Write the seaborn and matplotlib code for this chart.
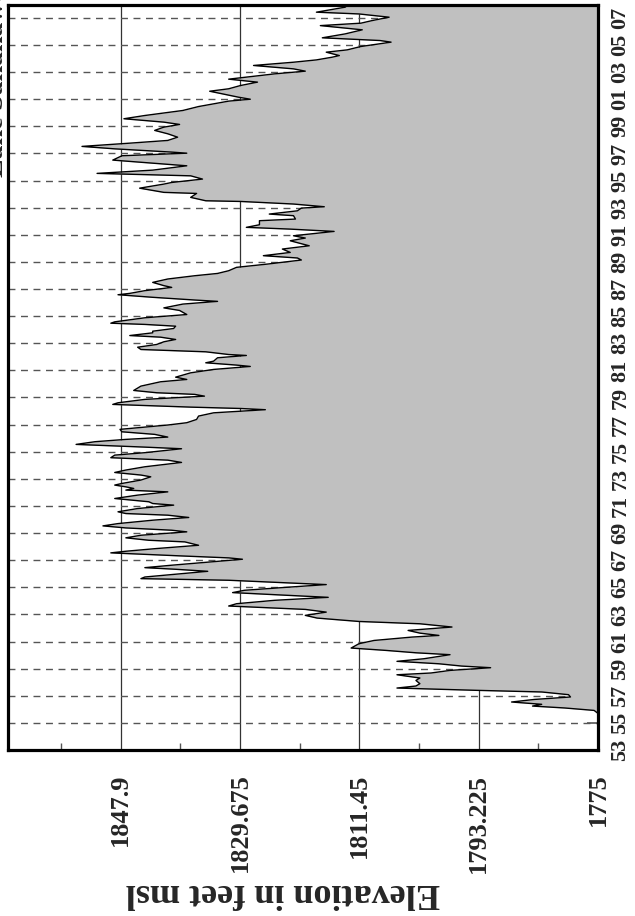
import matplotlib
matplotlib.use("Agg")
import matplotlib.pyplot as plt
import pandas as pd
import seaborn as sns

# Monthly-ish pool elevation readings (decimal year, feet msl)
year = [
    1955.70, 1955.92, 1956.10, 1956.24, 1956.37, 1956.54, 1956.73, 1956.91,
    1957.08, 1957.28, 1957.40, 1957.57, 1957.72, 1957.89, 1958.13, 1958.31,
    1958.55, 1958.68, 1958.87, 1959.07, 1959.19, 1959.36, 1959.54, 1959.73,
    1960.03, 1960.17, 1960.35, 1960.52, 1960.84, 1961.08, 1961.33, 1961.45,
    1961.62, 1961.82, 1962.07, 1962.31, 1962.48, 1962.73, 1962.93, 1963.17,
    1963.37, 1963.62, 1963.79, 1964.04, 1964.26, 1964.41, 1964.61, 1964.78,
    1965.02, 1965.20, 1965.39, 1965.52, 1965.64, 1965.76, 1966.01, 1966.18,
    1966.33, 1966.45, 1966.63, 1966.87, 1967.07, 1967.17, 1967.32, 1967.54,
    1967.66, 1967.86, 1968.10, 1968.35, 1968.47, 1968.65, 1968.84, 1969.09,
    1969.21, 1969.38, 1969.53, 1969.70, 1969.95, 1970.15, 1970.32, 1970.44,
    1970.57, 1970.81, 1971.06, 1971.18, 1971.31, 1971.55, 1971.80, 1972.04,
    1972.17, 1972.29, 1972.41, 1972.54, 1972.66, 1972.91, 1973.15, 1973.28,
    1973.47, 1973.65, 1973.89, 1974.21, 1974.38, 1974.56, 1974.75, 1974.93,
    1975.22, 1975.34, 1975.54, 1975.74, 1975.91, 1976.08, 1976.28, 1976.47,
    1976.65, 1976.97, 1977.14, 1977.38, 1977.63, 1977.87, 1978.10, 1978.19,
    1978.29, 1978.49, 1978.61, 1978.86, 1979.10, 1979.23, 1979.35, 1979.52,
    1979.84, 1980.16, 1980.33, 1980.50, 1980.82, 1981.07, 1981.29, 1981.39,
    1981.56, 1981.68, 1981.93, 1982.10, 1982.17, 1982.37, 1982.54, 1982.71,
    1982.91, 1983.11, 1983.28, 1983.45, 1983.57, 1983.77, 1983.89, 1984.09,
    1984.26, 1984.39, 1984.48, 1984.58, 1984.88, 1985.12, 1985.42, 1985.61,
    1985.89, 1986.09, 1986.19, 1986.39, 1986.58, 1986.68, 1986.88, 1987.12,
    1987.25, 1987.49, 1987.74, 1987.98, 1988.15, 1988.35, 1988.60, 1988.84,
    1989.14, 1989.29, 1989.46, 1989.70, 1989.95, 1990.19, 1990.56, 1990.76,
    1990.93, 1991.25, 1991.42, 1991.55, 1991.74, 1992.04, 1992.16, 1992.41,
    1992.53, 1992.77, 1992.97, 1993.07, 1993.27, 1993.46, 1993.51, 1993.76,
    1994.05, 1994.13, 1994.44, 1994.74, 1994.86, 1995.11, 1995.35, 1995.53,
    1995.77, 1996.09, 1996.51, 1996.83, 1997.02, 1997.10, 1997.34, 1997.52,
    1997.76, 1997.96, 1998.20, 1998.45, 1998.70, 1998.94, 1999.14, 1999.31,
    1999.56, 1999.80, 2000.17, 2000.46, 2000.86, 2001.00, 2001.15, 2001.59,
    2001.77, 2002.01, 2002.26, 2002.48, 2002.87, 2003.07, 2003.24, 2003.49,
    2003.73, 2003.90, 2004.10, 2004.22, 2004.47, 2004.64, 2004.89, 2005.21,
    2005.33, 2005.53, 2005.82, 2006.12, 2006.26, 2006.43, 2006.61, 2006.80,
    2007.05, 2007.29, 2007.42, 2007.79, 2007.91,
]
elevation = [
    1775.0, 1775.6, 1780.1, 1785.0, 1783.6, 1788.2, 1784.7, 1779.2,
    1779.5, 1783.6, 1793.5, 1805.7, 1802.8, 1802.2, 1802.8, 1802.2,
    1805.7, 1800.5, 1797.6, 1791.4, 1795.8, 1799.3, 1805.7, 1801.6,
    1797.6, 1802.8, 1807.5, 1812.7, 1811.5, 1809.2, 1803.4, 1799.3,
    1802.2, 1804.0, 1797.3, 1802.2, 1811.5, 1817.9, 1819.7, 1816.5,
    1819.7, 1831.4, 1830.2, 1824.4, 1816.2, 1822.6, 1830.8, 1829.0,
    1822.0, 1816.5, 1825.5, 1831.4, 1844.8, 1844.2, 1838.4, 1834.6,
    1839.5, 1844.2, 1840.1, 1834.3, 1829.3, 1831.4, 1838.9, 1849.4,
    1847.1, 1842.4, 1836.0, 1838.1, 1843.6, 1847.1, 1844.8, 1837.8,
    1840.1, 1847.1, 1850.6, 1848.3, 1843.0, 1837.5, 1840.7, 1847.1,
    1848.3, 1845.3, 1839.8, 1843.0, 1843.6, 1848.8, 1845.3, 1840.7,
    1847.1, 1845.9, 1847.1, 1848.8, 1847.7, 1844.8, 1843.3, 1844.8,
    1848.8, 1847.1, 1844.2, 1838.6, 1840.7, 1849.4, 1848.8, 1844.2,
    1838.6, 1844.2, 1854.7, 1851.8, 1847.1, 1840.7, 1842.7, 1847.7,
    1848.0, 1840.7, 1837.8, 1836.3, 1836.0, 1833.7, 1825.8, 1829.6,
    1837.2, 1849.1, 1848.3, 1844.2, 1835.1, 1836.6, 1842.4, 1845.9,
    1844.8, 1841.8, 1837.8, 1839.5, 1837.2, 1833.7, 1828.1, 1830.2,
    1834.9, 1833.7, 1833.1, 1828.7, 1831.4, 1834.9, 1844.8, 1845.3,
    1842.4, 1841.3, 1839.5, 1841.8, 1846.5, 1843.0, 1843.0, 1839.8,
    1839.5, 1844.2, 1849.4, 1848.8, 1844.2, 1837.8, 1838.9, 1841.3,
    1838.4, 1833.1, 1836.6, 1843.0, 1848.3, 1846.5, 1844.2, 1840.1,
    1841.3, 1843.0, 1840.7, 1836.6, 1833.1, 1831.4, 1830.2, 1825.5,
    1820.3, 1820.9, 1826.1, 1822.0, 1823.2, 1819.1, 1822.0, 1819.7,
    1821.5, 1815.3, 1822.0, 1828.7, 1826.7, 1826.7, 1821.2, 1821.5,
    1825.2, 1820.9, 1820.3, 1816.8, 1821.5, 1829.6, 1834.9, 1837.2,
    1836.3, 1841.3, 1845.0, 1841.3, 1840.1, 1835.4, 1837.2, 1851.5,
    1843.0, 1837.8, 1849.1, 1847.7, 1837.8, 1840.1, 1848.8, 1853.8,
    1846.5, 1840.7, 1839.2, 1840.7, 1842.7, 1841.3, 1838.9, 1841.3,
    1847.4, 1844.2, 1838.4, 1836.0, 1831.4, 1828.1, 1829.9, 1834.3,
    1831.4, 1829.6, 1827.0, 1831.4, 1824.4, 1819.7, 1821.5, 1827.6,
    1821.5, 1818.0, 1815.6, 1814.5, 1816.5, 1813.3, 1811.2, 1806.6,
    1808.3, 1817.1, 1813.6, 1811.0, 1813.9, 1817.4, 1811.2, 1809.5,
    1806.9, 1811.5, 1818.0, 1813.6, 1813.3,
]

elev_ticks = [1775, 1793.225, 1811.45, 1829.675, 1847.9]
elev_tick_labels = ["1775", "1793.225", "1811.45", "1829.675", "1847.9"]
year_ticks = list(range(1953, 2008, 2))
year_tick_labels = [f"{y % 100:02d}" for y in year_ticks]
axis_title = "Elevation in feet msl"
chart_title = "Lake Sakakawea Elevations"

sns.set_theme(style="white")
plt.rcParams["font.family"] = ["Liberation Serif", "DejaVu Serif"]
plt.rcParams["font.weight"] = "bold"

W, H = 635, 916
fig = plt.figure(figsize=(W / 100, H / 100), dpi=100)
fig.patch.set_facecolor("white")
ax = fig.add_axes([8 / W, 1 - 750 / H, 590 / W, 745 / H])
ax.set_facecolor("white")

df = pd.DataFrame({"year": year, "elevation": elevation})
base = elev_ticks[0]

# shaded pool between the elevation trace and the bottom of the scale
ax.fill_betweenx(df["year"], df["elevation"], base, color="#c0c0c0",
                 linewidth=0, zorder=2)
sns.lineplot(data=df, x="elevation", y="year", orient="y", sort=False,
             estimator=None, color="black", linewidth=1.0, ax=ax, zorder=3)

ax.set_xlim(1865.1, 1775)
ax.set_ylim(1953, 2007.95)

# elevation scale along the bottom edge
ax.set_xticks(elev_ticks)
ax.set_xticklabels(elev_tick_labels)
minor = [a + (elev_ticks[1] - elev_ticks[0]) / 2 for a in elev_ticks]
ax.set_xticks(minor, minor=True)
ax.tick_params(axis="x", which="major", length=0, pad=17, labelsize=19,
               labelrotation=90, bottom=True, top=False)
ax.tick_params(axis="x", which="minor", direction="in", length=5, width=1.0,
               color="#555555", bottom=True, top=False)
for lab in ax.get_xticklabels():
    lab.set_fontweight("bold")
    lab.set_ha("center")
    lab.set_va("top")

# year scale along the right edge
ax.yaxis.tick_right()
ax.set_yticks(year_ticks)
ax.set_yticklabels(year_tick_labels)
ax.tick_params(axis="y", which="major", direction="in", length=8, width=1.2,
               color="#555555", right=True, left=False, labelright=True,
               labelleft=False, pad=9, labelsize=16, labelrotation=90)
for lab in ax.get_yticklabels():
    lab.set_fontweight("bold")
    lab.set_va("center")
    lab.set_ha("left")

ax.set_axisbelow(True)
ax.grid(axis="x", which="major", color="#333333", linewidth=0.9, linestyle="-")
ax.grid(axis="y", which="major", color="#555555", linewidth=1.0,
        linestyle=(0, (5, 4)))

for side in ["left", "right", "top", "bottom"]:
    ax.spines[side].set_visible(True)
    ax.spines[side].set_color("black")
    ax.spines[side].set_linewidth(2.3)
    ax.spines[side].set_zorder(5)

ax.set_xlabel("")
ax.set_ylabel("")

fig.text(283 / W, 1 - 893 / H, axis_title, rotation=180, ha="center",
         va="center", fontsize=26, fontweight="bold")
fig.text(9 / W, 1 - 177 / H, chart_title, rotation=90, ha="right",
         va="bottom", fontsize=20, fontweight="bold")

fig.savefig("out.png", dpi=100, facecolor="white")
